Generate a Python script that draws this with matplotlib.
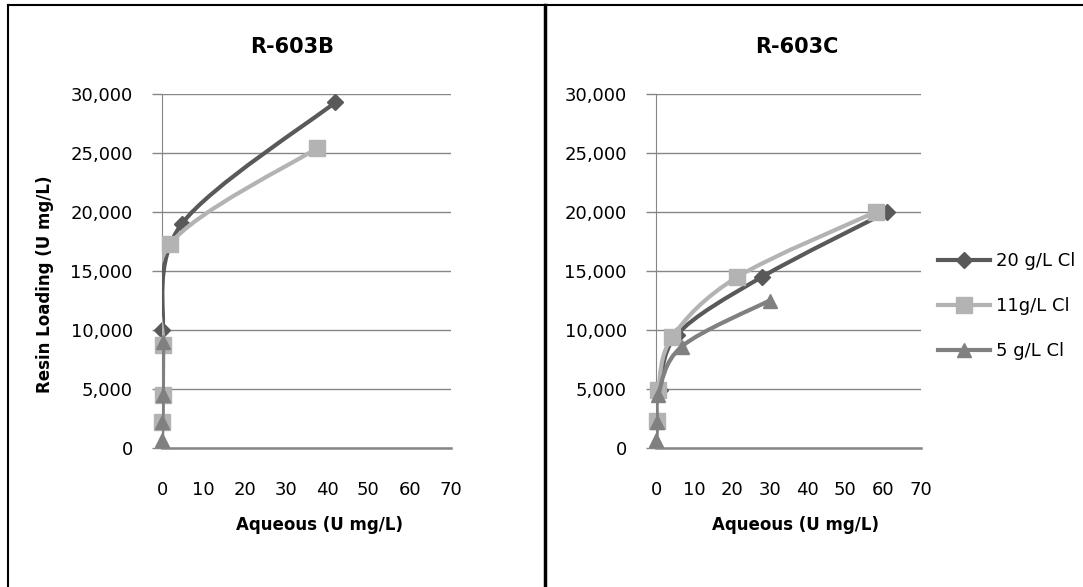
import numpy as np
import matplotlib
matplotlib.use('Agg')
import matplotlib.pyplot as plt
from matplotlib.path import Path
from matplotlib.patches import PathPatch
from matplotlib.lines import Line2D

plt.rcParams['font.family'] = ['DejaVu Sans']

# R-603B isotherm points (aqueous U mg/L, resin loading U mg/L)
b_20_x = [0.1, 4.8, 42.0]
b_20_y = [10000, 19000, 29300]
b_11_x = [0.1, 0.2, 0.3, 2.0, 37.5]
b_11_y = [2200, 4500, 8700, 17300, 25400]
b_5_x = [0.0, 0.1, 0.2, 0.3]
b_5_y = [700, 2200, 4500, 9000]

# R-603C isotherm points
c_20_x = [1.0, 5.5, 28.0, 61.0]
c_20_y = [4900, 9600, 14500, 20000]
c_11_x = [0.3, 0.6, 4.3, 21.5, 58.0]
c_11_y = [2300, 4900, 9400, 14500, 20000]
c_5_x = [0.1, 0.3, 0.6, 6.8, 30.0]
c_5_y = [700, 2200, 4500, 8600, 12500]

series_names = ['20 g/L Cl', '11g/L Cl', '5 g/L Cl']
colors = ['#595959', '#b3b3b3', '#808080']
markers = ['D', 's', '^']
msizes = [8, 11, 10]

x_ticks = [0, 10, 20, 30, 40, 50, 60, 70]
y_ticks = [0, 5000, 10000, 15000, 20000, 25000, 30000]
grid_col = '#868686'


def smooth_path(xs, ys):
    # Excel-style smoothed line (Catmull-Rom as cubic Bezier)
    pts = np.column_stack([xs, ys]).astype(float)
    n = len(pts)
    verts = [pts[0]]
    codes = [Path.MOVETO]
    for i in range(n - 1):
        p0 = pts[max(i - 1, 0)]
        p1 = pts[i]
        p2 = pts[i + 1]
        p3 = pts[min(i + 2, n - 1)]
        verts += [p1 + (p2 - p0) / 6, p2 - (p3 - p1) / 6, p2]
        codes += [Path.CURVE4] * 3
    return Path(verts, codes)


def setup_axes(ax, vgrid):
    ax.set_xlim(0, 70)
    ax.set_ylim(0, 30000)
    for s in ['top', 'right']:
        ax.spines[s].set_visible(False)
    ax.spines['left'].set_color(grid_col)
    ax.spines['bottom'].set_color(grid_col)
    ax.spines['bottom'].set_linewidth(1.8)
    ax.set_xticks(x_ticks)
    ax.set_xticks(vgrid, minor=True)
    ax.set_yticks(y_ticks)
    ax.set_yticklabels([f'{v:,}' for v in y_ticks])
    ax.tick_params(axis='x', which='major', length=0, pad=24, labelsize=13)
    ax.tick_params(axis='x', which='minor', length=7, width=1, color=grid_col, direction='out')
    ax.tick_params(axis='y', length=7, width=1, color=grid_col, pad=14, labelsize=13)
    ax.grid(True, axis='y', color=grid_col, lw=1)
    ax.grid(True, axis='x', which='minor', color=grid_col, lw=1)
    ax.set_axisbelow(True)


def draw_series(ax, xs, ys, k):
    ax.add_patch(PathPatch(smooth_path(xs, ys), facecolor='none', edgecolor=colors[k],
                           lw=3, capstyle='round', joinstyle='round', zorder=3 + k))
    ax.plot(xs, ys, ls='none', marker=markers[k], ms=msizes[k], color=colors[k],
            clip_on=False, zorder=3.5 + k)


fig = plt.figure(figsize=(10.83, 5.87), dpi=100)
axb = fig.add_axes([162 / 1083, 1 - 448 / 587, 289 / 1083, 354 / 587])
axc = fig.add_axes([656 / 1083, 1 - 448 / 587, 265 / 1083, 354 / 587])

setup_axes(axb, [10, 20, 30, 60, 70])
setup_axes(axc, [10, 20, 30, 40, 50, 60, 70])

for k, (xs, ys) in enumerate([(b_20_x, b_20_y), (b_11_x, b_11_y), (b_5_x, b_5_y)]):
    draw_series(axb, xs, ys, k)
for k, (xs, ys) in enumerate([(c_20_x, c_20_y), (c_11_x, c_11_y), (c_5_x, c_5_y)]):
    draw_series(axc, xs, ys, k)

# Titles and axis titles
fig.text(292 / 1083, 1 - 47 / 587, 'R-603B', ha='center', va='center', fontsize=15, fontweight='bold')
fig.text(797 / 1083, 1 - 47 / 587, 'R-603C', ha='center', va='center', fontsize=15, fontweight='bold')
fig.text(320 / 1083, 1 - 525 / 587, 'Aqueous (U mg/L)', ha='center', va='center', fontsize=12, fontweight='bold')
fig.text(795 / 1083, 1 - 525 / 587, 'Aqueous (U mg/L)', ha='center', va='center', fontsize=12, fontweight='bold')
fig.text(45 / 1083, 1 - 284 / 587, 'Resin Loading (U mg/L)', ha='center', va='center',
         rotation=90, fontsize=12, fontweight='bold')

# Legend
handles = [Line2D([], [], color=colors[k], lw=3, marker=markers[k], ms=msizes[k])
           for k in range(3)]
fig.legend(handles, series_names, loc='upper left', bbox_to_anchor=(938 / 1083, 1 - 252 / 587),
           frameon=False, fontsize=13, handlelength=2.9, handletextpad=0.3,
           labelspacing=1.5, borderpad=0, borderaxespad=0)

# Chart borders
fig.add_artist(Line2D([8 / 1083, 8 / 1083], [0, 1 - 5 / 587], color='black', lw=1.5))
fig.add_artist(Line2D([8 / 1083, 1], [1 - 5 / 587, 1 - 5 / 587], color='black', lw=1.5))
fig.add_artist(Line2D([545 / 1083, 545 / 1083], [0, 1 - 5 / 587], color='black', lw=2.5))

fig.savefig('out.png', dpi=100)
